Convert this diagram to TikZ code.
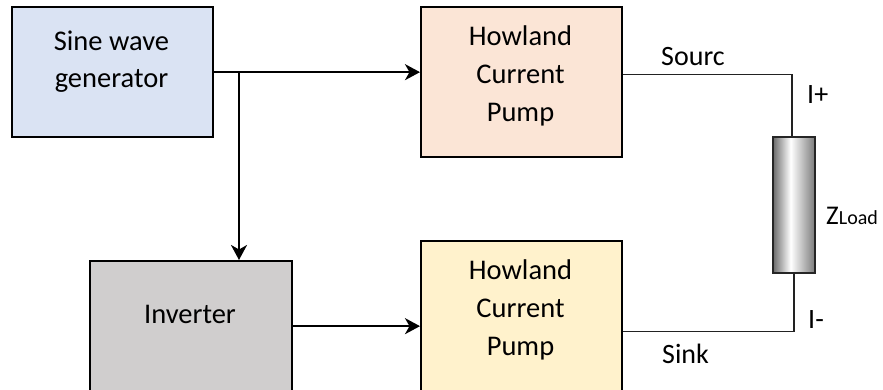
\documentclass[tikz,border=0pt]{standalone}
\usepackage{fontspec}
\setmainfont{Carlito}
\usetikzlibrary{arrows.meta}
\definecolor{sinefill}{HTML}{DAE3F3}
\definecolor{hcpafill}{HTML}{FBE5D6}
\definecolor{hcpbfill}{HTML}{FFF2CC}
\definecolor{invfill}{HTML}{D0CECE}
\definecolor{wirecol}{HTML}{222222}
\pgfdeclarehorizontalshading{resshade}{100bp}{color(0bp)=(black!58); color(25bp)=(black!58); color(46bp)=(white); color(75bp)=(black!52); color(100bp)=(black!52)}
\begin{document}
\begin{tikzpicture}[x=1pt,y=-1pt,
  blockbox/.style={draw=black, line width=2.3pt, rectangle, anchor=north west, inner sep=0pt},
  txt/.style={inner sep=0pt, anchor=base, font=\fontsize{28.5}{38}\selectfont},
  lbl/.style={inner sep=0pt, anchor=base west, font=\fontsize{28}{34}\selectfont},
  arr/.style={line width=2.2pt, -{Stealth[length=15pt,width=16pt,inset=4.5pt]}},
  wire/.style={line width=1.2pt, draw=wirecol}]
\useasboundingbox (0,0) rectangle (883,389);

% blocks
\node[blockbox, fill=sinefill, minimum width=201pt, minimum height=130pt] (sine) at (11,6) {};
\node[blockbox, fill=hcpafill, minimum width=201pt, minimum height=150pt] (hcpa) at (420,6) {};
\node[blockbox, fill=hcpbfill, minimum width=201pt, minimum height=150pt] (hcpb) at (420,240) {};
\node[blockbox, fill=invfill, minimum width=202pt, minimum height=130pt] (inv) at (89,260) {};

% block texts
\node[txt] (sinet1) at (111.5,50) {Sine wave};
\node[txt] (sinet2) at (111.5,87) {generator};
\node[txt] (hat1) at (520.5,45) {Howland};
\node[txt] (hat2) at (520.5,83) {Current};
\node[txt] (hat3) at (520.5,121) {Pump};
\node[txt] (hbt1) at (520.5,279) {Howland};
\node[txt] (hbt2) at (520.5,317) {Current};
\node[txt] (hbt3) at (520.5,355) {Pump};
\node[txt] (invt) at (190,323) {Inverter};

% load
\node[draw=black!85, line width=1.6pt, shading=resshade, rectangle, minimum width=42pt, minimum height=136pt, inner sep=0pt] (zl) at (794,205) {};

% arrows
\coordinate (br) at (239,71);
\draw[arr] (sine.east) -- (hcpa.west |- sine.east);
\draw[arr] (br) -- (br |- inv.north);
\draw[arr] (inv.east) -- (hcpb.west |- inv.east);

% wires
\draw[wire] ([yshift=8pt]hcpa.east) -| ([xshift=-2pt]zl.north);
\draw[wire] (zl.south) |- ([yshift=-15pt]hcpb.east);

% labels
\node[lbl] (src) at (661,65) {Sourc};
\node[lbl] (ip) at (807,103) {I+};
\node[lbl] (im) at (808,328) {I-};
\node[lbl] (snk) at (662,363) {Sink};
\node[inner sep=0pt, anchor=base west, font=\fontsize{27}{30}\selectfont] (zload) at (826,224) {Z{\fontsize{20}{22}\selectfont Load}};
\end{tikzpicture}
\end{document}
